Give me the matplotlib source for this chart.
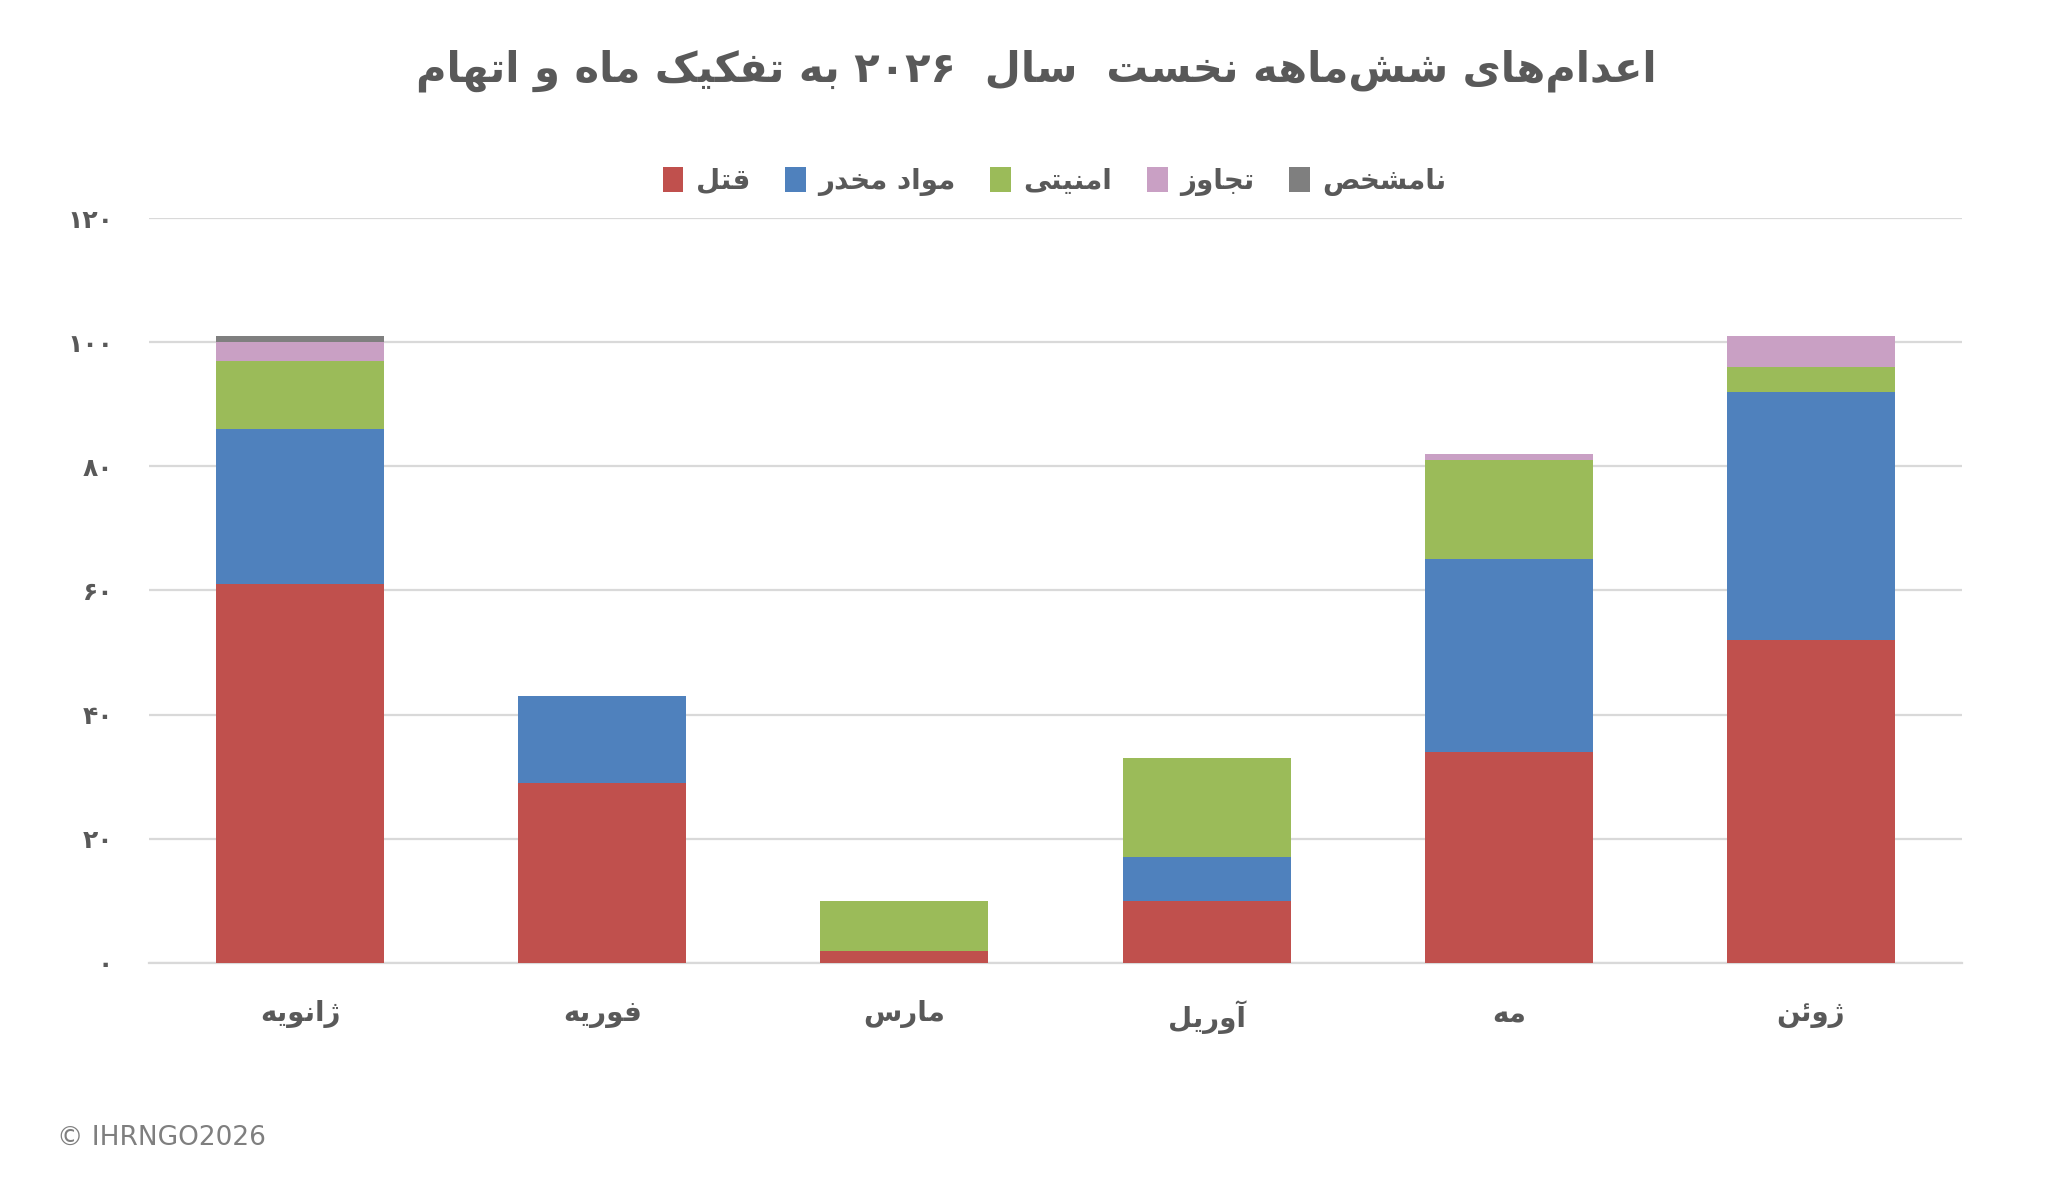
import matplotlib
matplotlib.use("Agg")
import matplotlib.pyplot as plt
import numpy as np

# data
months = ["ژانویه", "فوریه", "مارس", "آوریل", "مه", "ژوئن"]
charges = ["قتل", "مواد مخدر", "امنیتی", "تجاوز", "نامشخص"]
murder = [61, 29, 2, 10, 34, 52]
drugs = [25, 14, 0, 7, 31, 40]
security = [11, 0, 8, 16, 16, 4]
rape = [3, 0, 0, 0, 1, 5]
unknown = [1, 0, 0, 0, 0, 0]
yticks = [0, 20, 40, 60, 80, 100, 120]
title = "اعدام‌های شش‌ماهه نخست  سال  ۲۰۲۶ به تفکیک ماه و اتهام"

colors = ["#C0504D", "#4F81BD", "#9BBB59", "#C9A0C4", "#7F7F7F"]
TXT = "#595959"

# --- tiny arabic/persian shaper (matplotlib has no complex text layout) ---
# letter: (isolated, final, initial, medial); 2 forms = joins to previous only
FORMS = {
    "ا": (0xFE8D, 0xFE8E), "آ": (0xFE81, 0xFE82), "د": (0xFEA9, 0xFEAA),
    "ذ": (0xFEAB, 0xFEAC), "ر": (0xFEAD, 0xFEAE), "ز": (0xFEAF, 0xFEB0),
    "ژ": (0xFB8A, 0xFB8B), "و": (0xFEED, 0xFEEE), "ؤ": (0xFE85, 0xFE86),
    "ب": (0xFE8F, 0xFE90, 0xFE91, 0xFE92), "پ": (0xFB56, 0xFB57, 0xFB58, 0xFB59),
    "ت": (0xFE95, 0xFE96, 0xFE97, 0xFE98), "ث": (0xFE99, 0xFE9A, 0xFE9B, 0xFE9C),
    "ج": (0xFE9D, 0xFE9E, 0xFE9F, 0xFEA0), "چ": (0xFB7A, 0xFB7B, 0xFB7C, 0xFB7D),
    "ح": (0xFEA1, 0xFEA2, 0xFEA3, 0xFEA4), "خ": (0xFEA5, 0xFEA6, 0xFEA7, 0xFEA8),
    "س": (0xFEB1, 0xFEB2, 0xFEB3, 0xFEB4), "ش": (0xFEB5, 0xFEB6, 0xFEB7, 0xFEB8),
    "ص": (0xFEB9, 0xFEBA, 0xFEBB, 0xFEBC), "ض": (0xFEBD, 0xFEBE, 0xFEBF, 0xFEC0),
    "ط": (0xFEC1, 0xFEC2, 0xFEC3, 0xFEC4), "ظ": (0xFEC5, 0xFEC6, 0xFEC7, 0xFEC8),
    "ع": (0xFEC9, 0xFECA, 0xFECB, 0xFECC), "غ": (0xFECD, 0xFECE, 0xFECF, 0xFED0),
    "ف": (0xFED1, 0xFED2, 0xFED3, 0xFED4), "ق": (0xFED5, 0xFED6, 0xFED7, 0xFED8),
    "ک": (0xFB8E, 0xFB8F, 0xFB90, 0xFB91), "گ": (0xFB92, 0xFB93, 0xFB94, 0xFB95),
    "ل": (0xFEDD, 0xFEDE, 0xFEDF, 0xFEE0), "م": (0xFEE1, 0xFEE2, 0xFEE3, 0xFEE4),
    "ن": (0xFEE5, 0xFEE6, 0xFEE7, 0xFEE8), "ه": (0xFEE9, 0xFEEA, 0xFEEB, 0xFEEC),
    "ی": (0xFBFC, 0xFBFD, 0xFBFE, 0xFBFF), "ئ": (0xFE89, 0xFE8A, 0xFE8B, 0xFE8C),
}


def fa(s):
    chars = list(s)
    out = []
    for i, c in enumerate(chars):
        if c not in FORMS:
            if c != "\u200c":
                out.append(c)
            continue
        f = FORMS[c]
        p = chars[i - 1] if i > 0 else ""
        n = chars[i + 1] if i + 1 < len(chars) else ""
        jp = p in FORMS and len(FORMS[p]) == 4
        jn = len(f) == 4 and n in FORMS
        if jp and jn:
            k = 3
        elif jp:
            k = 1
        elif jn:
            k = 2
        else:
            k = 0
        out.append(chr(f[k]))
    # visual order: reverse, but keep digit runs left to right
    out = out[::-1]
    res, run = [], []
    for c in out:
        if c.isdigit():
            run.append(c)
        else:
            res.extend(run[::-1]); run = []
            res.append(c)
    res.extend(run[::-1])
    return "".join(res)


def fa_num(v):
    return "".join(chr(0x06F0 + int(d)) for d in str(v))


plt.rcParams["font.family"] = ["DejaVu Sans"]

fig = plt.figure(figsize=(20.48, 11.94), dpi=100)
ax = fig.add_axes([0.0728, 0.1935, 0.8852, 0.6239])

x = np.arange(len(months))
series = [murder, drugs, security, rape, unknown]
bottom = np.zeros(len(months))
for vals, col, name in zip(series, colors, charges):
    ax.bar(x, vals, width=0.556, bottom=bottom, color=col, label=fa(name), zorder=3)
    bottom += np.array(vals)

ax.set_xlim(-0.5, 5.5)
ax.set_ylim(0, 120)
ax.set_yticks(yticks)
ax.set_yticklabels([fa_num(v) for v in yticks])
ax.set_xticks(x)
ax.set_xticklabels([fa(m) for m in months])
ax.grid(axis="y", color="#D9D9D9", linewidth=1.6, zorder=0)
for s in ["top", "right", "left"]:
    ax.spines[s].set_visible(False)
ax.spines["bottom"].set_color("#D9D9D9")
ax.spines["bottom"].set_linewidth(1.6)
ax.tick_params(axis="both", length=0, colors=TXT)
ax.tick_params(axis="y", pad=26, labelsize=18)
ax.tick_params(axis="x", pad=27, labelsize=20)
for t in ax.get_xticklabels() + ax.get_yticklabels():
    t.set_fontweight("bold")

fig.text(0.506, 0.941, fa(title), ha="center", va="center", fontsize=30,
         fontweight="bold", color=TXT)

leg = fig.legend(loc="center", bbox_to_anchor=(0.515, 0.848), ncol=5, frameon=False,
                 handlelength=0.75, handleheight=1.0, handletextpad=0.45,
                 columnspacing=1.25, prop={"weight": "bold", "size": 20})
for t in leg.get_texts():
    t.set_color(TXT)

fig.text(0.028, 0.047, "© IHRNGO2026", ha="left", va="center", fontsize=19,
         color="#7F7F7F")

fig.savefig("out.png", dpi=100, facecolor="white")
